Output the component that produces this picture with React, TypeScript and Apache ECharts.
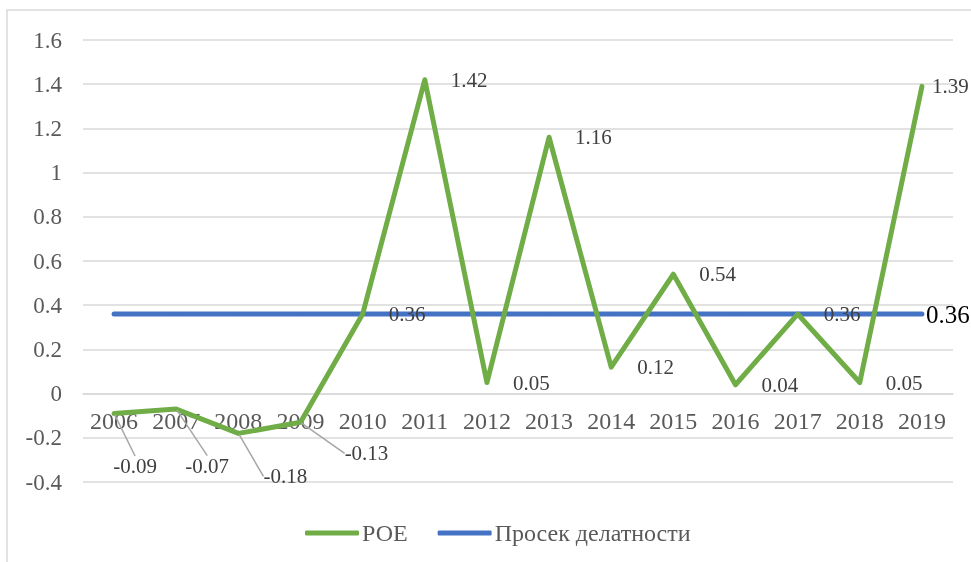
import React, { useEffect, useRef } from 'react';
import * as echarts from 'echarts';

const years = ['2006', '2007', '2008', '2009', '2010', '2011', '2012', '2013', '2014', '2015', '2016', '2017', '2018', '2019'];
const roeValues = [-0.09, -0.07, -0.18, -0.13, 0.36, 1.42, 0.05, 1.16, 0.12, 0.54, 0.04, 0.36, 0.05, 1.39];
const averageValues = [0.36, 0.36, 0.36, 0.36, 0.36, 0.36, 0.36, 0.36, 0.36, 0.36, 0.36, 0.36, 0.36, 0.36];
const seriesNames = ['РОЕ', 'Просек делатности'];
const yMin = -0.4;
const yMax = 1.6;
const yStep = 0.2;

// label displacement (px) for the negative points, which carry leader lines
const labelShift: Record<number, [number, number]> = {
  0: [21, 53],
  1: [31, 57],
  2: [47, 43],
  3: [66, 31],
};

const FONT = 'Liberation Serif';
const W = 971;
const H = 562;
const GRID = { left: 83, right: 18, top: 40, bottom: 80 };

export default function App() {
  const ref = useRef<HTMLDivElement>(null);
  useEffect(() => {
    if (!ref.current) return;
    const chart = echarts.init(ref.current, undefined, { renderer: 'svg' });
    const plotH = H - GRID.top - GRID.bottom;
    const zeroOffset = -plotH * (0 - yMin) / (yMax - yMin);
    const lastIdx = roeValues.length - 1;
    chart.setOption({
      animation: false,
      textStyle: { fontFamily: FONT },
      graphic: [
        {
          type: 'rect',
          shape: { x: 7, y: 10, width: 1000, height: 600 },
          style: { fill: 'none', stroke: '#d9d9d9', lineWidth: 1.5 },
          silent: true,
          z: -1,
        },
      ],
      grid: GRID,
      legend: {
        left: 305,
        top: 521,
        padding: 0,
        itemWidth: 54,
        itemHeight: 5,
        itemGap: 30,
        icon: 'roundRect',
        textStyle: { fontFamily: FONT, fontSize: 24, color: '#595959', padding: [0, 0, 0, -2] },
        data: seriesNames,
      },
      xAxis: {
        type: 'category',
        data: years,
        boundaryGap: true,
        offset: zeroOffset,
        axisLine: { show: true, onZero: false, lineStyle: { color: '#d9d9d9', width: 1.5 } },
        axisTick: { show: false },
        axisLabel: { interval: 0, hideOverlap: false, margin: 15, fontFamily: FONT, fontSize: 24, color: '#595959' },
        z: 1,
      },
      yAxis: {
        type: 'value',
        min: yMin,
        max: yMax,
        interval: yStep,
        axisLine: { show: false },
        axisTick: { show: false },
        axisLabel: {
          margin: 21,
          fontFamily: FONT,
          fontSize: 23,
          color: '#595959',
          formatter: (v: number) => String(Math.round(v * 10) / 10),
        },
        splitLine: { lineStyle: { color: '#d9d9d9', width: 1.5 } },
      },
      series: [
        {
          name: seriesNames[0],
          type: 'line',
          data: roeValues.map((v, i) =>
            labelShift[i]
              ? { value: v, labelLine: { show: true } }
              : i === lastIdx
              ? { value: v, label: { distance: 9 } }
              : v
          ),
          symbol: 'circle',
          symbolSize: 2,
          color: '#70ad47',
          itemStyle: { color: '#70ad47' },
          lineStyle: { color: '#70ad47', width: 5, join: 'round', cap: 'round' },
          z: 3,
          label: {
            show: true,
            position: 'right',
            distance: 25,
            fontFamily: FONT,
            fontSize: 21,
            color: '#404040',
            formatter: (p: any) => String(p.value),
          },
          labelLine: {
            show: false,
            lineStyle: { color: '#a6a6a6', width: 1.5 },
          },
          labelLayout: (params: any) => {
            const s = labelShift[params.dataIndex];
            if (!s) return {};
            const r = params.labelRect;
            const anchorX = params.rect.x + params.rect.width / 2;
            const anchorY = params.rect.y + params.rect.height / 2;
            return {
              x: anchorX + s[0] - r.width / 2,
              y: anchorY + s[1],
              align: 'left',
              verticalAlign: 'middle',
            };
          },
        },
        {
          name: seriesNames[1],
          type: 'line',
          data: averageValues,
          symbol: 'circle',
          symbolSize: 2,
          color: '#4472c4',
          itemStyle: { color: '#4472c4' },
          lineStyle: { color: '#4472c4', width: 5, cap: 'round' },
          z: 2,
          label: {
            show: true,
            position: 'right',
            distance: 3,
            fontFamily: FONT,
            fontSize: 25,
            color: '#000000',
            formatter: (p: any) => (p.dataIndex === averageValues.length - 1 ? String(p.value) : ''),
          },
        },
      ],
    });
    return () => chart.dispose();
  }, []);
  return <div ref={ref} style={{ position: 'fixed', left: 0, top: 0, width: W, height: H }} />;
}
